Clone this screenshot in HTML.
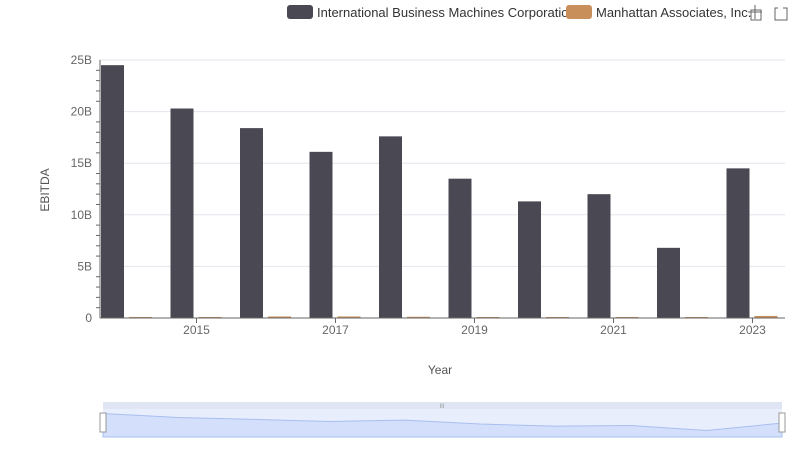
<!DOCTYPE html>
<html><head><meta charset="utf-8"><style>
body{margin:0;background:#fff;font-family:"Liberation Sans",sans-serif;}
svg text{font-family:"Liberation Sans",sans-serif;}
</style></head><body>
<svg width="800" height="461" xmlns="http://www.w3.org/2000/svg">
<g>
 <g><rect x="287" y="5" width="26" height="14" rx="3" fill="#4a4953"/><text x="317" y="17" font-size="13" fill="#333">International Business Machines Corporation</text></g>
 <g><rect x="566" y="5" width="26" height="14" rx="3" fill="#c98f5a"/><text x="596" y="17" font-size="13" fill="#333">Manhattan Associates, Inc.</text></g>
 <g stroke="#666" fill="none"><path d="M748 12h14M755 5v14"/><rect x="751" y="10" width="10" height="10"/></g>
 <g stroke="#666" fill="none"><path d="M778 8h-3v12h12v-12h-4"/></g>
</g>
<g id="grid"></g>
<g id="bars"></g>
<g id="axes"></g>
<text x="49" y="190" font-size="12" fill="#555" transform="rotate(-90 49 190)" text-anchor="middle">EBITDA</text>
<text x="440" y="374" font-size="12" fill="#555" text-anchor="middle">Year</text>
<g>
 <rect x="103" y="402" width="679" height="7" fill="#dfe5f2"/>
 <rect x="103" y="409" width="679" height="28" fill="#e8eefc"/>
 <path id="navarea" fill="#d3dffb" stroke="#a9bff0"/>
 <text x="442" y="408" font-size="6" fill="#999" text-anchor="middle">III</text>
 <rect x="100" y="413" width="6" height="19" fill="#fff" stroke="#999"/>
 <rect x="779" y="413" width="6" height="19" fill="#fff" stroke="#999"/>
</g>
</svg>
<script>
const years=[2014,2015,2016,2017,2018,2019,2020,2021,2022,2023];
const ibm=[24.5,20.3,18.4,16.1,17.6,13.5,11.3,12.0,6.8,14.5];
const manh=[0.1,0.1,0.15,0.15,0.12,0.1,0.1,0.1,0.1,0.2];
const yTicks=[0,5,10,15,20,25];
const NS="http://www.w3.org/2000/svg";
const y0=318,yTop=60,yMax=25;
const yS=v=>y0-(y0-yTop)*v/yMax;
const xC=i=>127+69.5*i;
function mk(t,a,p){const e=document.createElementNS(NS,t);for(const k in a)e.setAttribute(k,a[k]);p.appendChild(e);return e;}
const grid=document.getElementById('grid'),bars=document.getElementById('bars'),axes=document.getElementById('axes');
yTicks.forEach(v=>{
 const l=mk('line',{x1:100,x2:785,y1:yS(v),y2:yS(v),stroke:'#e3e6ee'},grid);
 
 
 const t=mk('text',{x:92,y:yS(v)+4,'font-size':12,fill:'#666','text-anchor':'end'},axes);
 t.textContent=v===0?'0':v+'B';
 
 
});
for(let v=0;v<=25;v+=1){if(v%5)mk('line',{x1:96,x2:100,y1:yS(v),y2:yS(v),stroke:'#666'},axes);}
mk('line',{x1:100,x2:100,y1:yS(25),y2:y0,stroke:'#666'},axes);
mk('line',{x1:100,x2:785,y1:y0,y2:y0,stroke:'#666'},axes);
years.forEach((yr,i)=>{
 const c=xC(i);
 const b=mk('rect',{x:c-26,y:yS(ibm[i]),width:23,height:y0-yS(ibm[i]),fill:'#4a4953'},bars);
 
 
 const m=mk('rect',{x:c+2,y:yS(manh[i]),width:23,height:Math.max(1.5,y0-yS(manh[i])),fill:'#c98f5a'},bars);
 
 
 if(yr%2===1){
  mk('line',{x1:c,x2:c,y1:y0,y2:y0+5,stroke:'#666'},axes);
  const t=mk('text',{x:c,y:y0+16,'font-size':12,fill:'#666','text-anchor':'middle'},axes);
  t.textContent=yr;
  
  
 }
});
// navigator series
const nx=i=>103+679*i/9, ny=v=>437-24*v/yMax;
let d='M103 437';ibm.forEach((v,i)=>d+=' L'+nx(i)+' '+ny(v));d+=' L782 437Z';
document.getElementById('navarea').setAttribute('d',d);
</script>
</body></html>
